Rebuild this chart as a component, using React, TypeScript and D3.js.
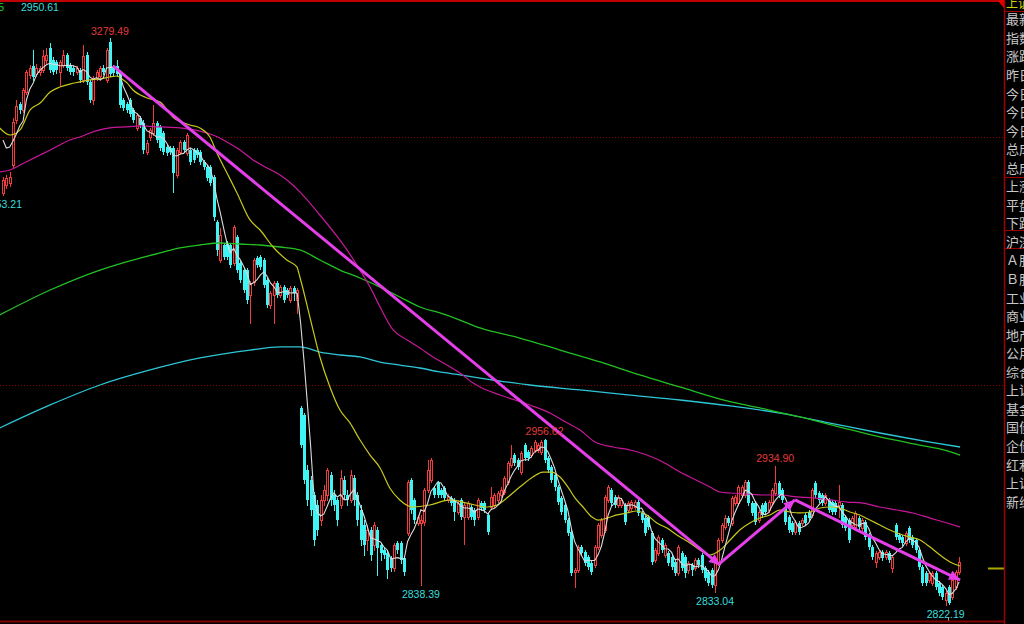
import React from 'react';
import * as d3 from 'd3';

// ---------- candle data (index points) ----------
const opens = [
  3155.0, 3161.3, 3162.9, 3177.4, 3213.7, 3226.6, 3221.8, 3236.3, 3250.0, 3257.3,
  3250.8, 3252.4, 3254.0, 3262.1, 3271.8, 3262.1, 3260.5, 3252.4, 3258.1, 3266.2,
  3258.1, 3255.7, 3252.4, 3254.0, 3246.0, 3266.2, 3244.4, 3229.9, 3247.6, 3249.2,
  3255.7, 3246.0, 3276.6, 3256.5, 3257.3, 3252.4, 3229.9, 3226.6, 3229.9, 3221.8,
  3207.3, 3215.3, 3211.3, 3187.9, 3200.0, 3203.2, 3211.3, 3208.1, 3203.2, 3191.9,
  3191.1, 3191.1, 3169.4, 3187.9, 3196.0, 3187.1, 3189.5, 3189.5, 3189.5,
  3187.9, 3179.9, 3175.8, 3175.8, 3167.8, 3131.5, 3100.8, 3112.9, 3114.5, 3112.9, 3098.4,
  3119.4, 3098.4, 3092.7, 3092.7, 3072.6, 3083.1, 3102.4, 3103.2, 3100.8, 3084.7,
  3064.5, 3072.6, 3082.3, 3072.6, 3079.0, 3076.6, 3068.6, 3078.2, 3068.6,
  2981.6, 2975.8, 2931.4, 2923.4, 2911.3, 2903.2, 2891.1, 2907.3, 2911.3, 2927.4, 2911.3,
  2907.3, 2903.2, 2923.4, 2911.3, 2907.3, 2925.0, 2911.3, 2899.2, 2887.1, 2875.0,
  2883.1, 2871.0, 2883.1, 2871.0,
  2866.9, 2864.5, 2860.5, 2852.4, 2872.6, 2872.6, 2860.5, 2880.6, 2923.4, 2907.3,
  2888.7, 2888.7, 2889.5, 2915.3, 2923.4, 2916.9, 2921.0, 2915.3, 2916.9, 2907.3,
  2908.9, 2907.3, 2897.6, 2907.3, 2893.5, 2893.5, 2901.6, 2899.2, 2893.5, 2904.8,
  2904.8, 2895.2, 2901.6, 2903.2, 2907.3, 2911.3, 2913.7, 2921.8, 2935.5, 2943.5,
  2939.5, 2929.8, 2951.6, 2946.0, 2943.5, 2947.6, 2947.6, 2946.0, 2955.6, 2941.1,
  2933.9, 2927.4, 2917.7, 2908.9, 2903.2, 2891.1, 2881.5, 2849.2, 2850.8, 2869.3,
  2865.3, 2861.3, 2856.4, 2854.8, 2869.3, 2879.0, 2883.1, 2907.3, 2915.3, 2909.7,
  2903.2, 2903.2, 2903.2, 2899.2, 2900.8, 2901.6, 2905.6, 2896.8, 2892.7, 2893.5,
  2880.6, 2858.9, 2864.5, 2875.0, 2862.9, 2864.5, 2861.3, 2857.3, 2848.4, 2864.5,
  2861.3, 2850.8, 2854.8, 2852.4, 2858.9, 2862.9, 2852.4, 2849.2, 2850.8, 2838.7,
  2856.4, 2875.0, 2885.5, 2892.7, 2888.7, 2904.8, 2904.8, 2911.3, 2911.3, 2921.8,
  2904.8, 2904.8, 2891.1, 2903.2, 2904.8, 2899.2, 2905.6, 2912.9, 2920.9, 2915.3,
  2901.6, 2893.5, 2888.7, 2881.5, 2888.7, 2888.7, 2895.2, 2897.6, 2895.2, 2920.9,
  2912.9, 2911.3, 2904.8, 2907.3, 2905.6, 2904.8, 2903.2, 2903.2, 2893.5, 2891.1,
  2887.1, 2885.5, 2892.7, 2884.7, 2889.5, 2879.0, 2869.3, 2857.3, 2861.3, 2865.3,
  2861.3, 2864.5, 2852.4, 2887.1, 2879.0, 2877.4, 2872.6, 2884.7, 2877.4, 2875.0,
  2866.9, 2853.2, 2848.4, 2842.7, 2840.3, 2848.4, 2840.3, 2837.1, 2826.6, 2837.1,
  2829.0, 2837.1, 2849.2,
];

const closes = [
  3165.3, 3166.9, 3167.7, 3212.1, 3225.0, 3221.8, 3237.9, 3252.4, 3255.7, 3248.4,
  3255.7, 3255.7, 3265.4, 3266.2, 3254.0, 3252.4, 3254.0, 3260.5, 3266.2, 3255.7,
  3252.4, 3252.4, 3255.7, 3246.0, 3265.4, 3244.4, 3229.9, 3247.6, 3252.4, 3255.7,
  3252.4, 3270.2, 3250.8, 3251.6, 3250.8, 3225.8, 3223.4, 3221.8, 3218.6, 3213.7,
  3217.7, 3209.7, 3189.5, 3195.2, 3205.7, 3211.3, 3197.6, 3191.1, 3187.9, 3187.1,
  3187.9, 3171.0, 3189.5, 3196.0, 3189.5, 3201.6, 3179.9, 3181.5, 3185.5,
  3179.9, 3175.8, 3167.0, 3162.9, 3135.5, 3108.9, 3121.0, 3103.2, 3103.2, 3096.8, 3127.4,
  3092.7, 3084.7, 3076.6, 3068.6, 3082.3, 3100.8, 3096.8, 3095.2, 3080.7, 3064.5,
  3074.2, 3082.3, 3072.6, 3079.0, 3068.6, 3072.6, 3078.2, 3074.2, 3076.6,
  2951.6, 2923.4, 2907.3, 2899.2, 2875.0, 2883.1, 2907.3, 2915.3, 2931.4, 2907.3, 2903.2,
  2891.1, 2925.0, 2911.3, 2907.3, 2927.4, 2907.3, 2891.1, 2875.0, 2871.0, 2883.1,
  2862.9, 2887.1, 2868.5, 2864.5,
  2862.9, 2850.8, 2852.4, 2871.0, 2866.9, 2858.9, 2849.2, 2921.8, 2899.2, 2891.1,
  2893.5, 2891.1, 2915.3, 2931.4, 2939.5, 2911.3, 2911.3, 2911.3, 2908.9, 2909.7,
  2904.8, 2897.6, 2904.8, 2893.5, 2903.2, 2904.8, 2893.5, 2891.1, 2907.3, 2900.8,
  2899.2, 2881.5, 2909.7, 2911.3, 2912.9, 2915.3, 2925.0, 2937.1, 2941.5, 2937.1,
  2933.9, 2945.2, 2941.1, 2941.1, 2949.2, 2954.0, 2951.6, 2954.0, 2939.5, 2931.4,
  2923.4, 2917.7, 2905.6, 2897.6, 2891.1, 2880.6, 2848.4, 2850.8, 2869.3, 2864.5,
  2856.4, 2853.2, 2849.2, 2869.3, 2887.1, 2891.1, 2909.7, 2917.7, 2904.8, 2903.2,
  2909.7, 2907.3, 2889.5, 2904.8, 2905.6, 2905.6, 2896.8, 2891.1, 2880.6, 2885.5,
  2857.3, 2866.9, 2877.4, 2866.9, 2871.0, 2856.4, 2853.2, 2848.4, 2869.3, 2852.4,
  2848.4, 2856.4, 2850.8, 2858.9, 2854.8, 2850.8, 2844.3, 2840.3, 2838.7, 2856.4,
  2875.0, 2887.1, 2892.7, 2888.7, 2908.9, 2909.7, 2917.7, 2917.7, 2921.8, 2904.8,
  2896.8, 2889.5, 2897.6, 2895.2, 2897.6, 2905.6, 2915.3, 2920.9, 2911.3, 2907.3,
  2889.5, 2883.1, 2881.5, 2889.5, 2881.5, 2891.1, 2888.7, 2892.7, 2915.3, 2911.3,
  2907.3, 2904.8, 2911.3, 2899.2, 2897.6, 2897.6, 2905.6, 2887.1, 2884.7, 2875.0,
  2892.7, 2896.8, 2885.5, 2891.1, 2877.4, 2869.3, 2861.3, 2864.5, 2865.3, 2860.5,
  2865.3, 2858.9, 2861.3, 2877.4, 2875.0, 2872.6, 2880.6, 2875.0, 2871.0, 2866.9,
  2853.2, 2840.3, 2840.3, 2848.4, 2848.4, 2837.1, 2832.3, 2829.0, 2832.3, 2824.2,
  2842.7, 2849.2, 2857.3,
];

const highs = [
  3167.7, 3169.4, 3171.8, 3215.3, 3229.9, 3228.2, 3239.5, 3254.0, 3258.1, 3270.2,
  3258.9, 3257.3, 3270.2, 3271.8, 3275.8, 3264.6, 3262.1, 3262.1, 3270.2, 3267.8,
  3259.7, 3257.3, 3257.3, 3255.7, 3274.2, 3268.6, 3246.0, 3249.2, 3254.0, 3257.3,
  3258.1, 3271.8, 3279.49, 3258.1, 3262.1, 3254.0, 3231.5, 3228.2, 3231.5, 3223.4,
  3219.4, 3216.9, 3213.7, 3197.6, 3207.3, 3225.8, 3212.9, 3209.7, 3204.8, 3193.5,
  3192.7, 3192.7, 3191.1, 3197.6, 3197.6, 3203.2, 3191.1, 3191.1, 3191.1,
  3189.5, 3181.5, 3177.4, 3177.4, 3169.4, 3133.1, 3126.6, 3114.5, 3116.1, 3114.5, 3129.0,
  3121.0, 3100.0, 3094.4, 3094.4, 3083.9, 3102.4, 3104.0, 3104.9, 3102.4, 3086.3,
  3075.8, 3083.9, 3083.9, 3080.7, 3080.7, 3078.2, 3079.8, 3079.8, 3078.2,
  2983.2, 2977.4, 2935.5, 2926.6, 2913.7, 2907.3, 2911.3, 2919.4, 2933.1, 2929.8, 2915.3,
  2908.9, 2931.4, 2926.6, 2915.3, 2931.4, 2927.4, 2913.7, 2903.2, 2891.1, 2887.1,
  2885.5, 2889.5, 2885.5, 2872.6,
  2868.5, 2866.1, 2862.1, 2872.6, 2874.2, 2874.2, 2862.1, 2923.4, 2925.0, 2908.9,
  2895.2, 2895.2, 2916.9, 2939.5, 2941.1, 2918.6, 2922.6, 2916.9, 2918.6, 2912.1,
  2910.5, 2908.9, 2906.4, 2908.9, 2904.8, 2906.4, 2903.2, 2900.8, 2908.9, 2906.4,
  2906.4, 2896.8, 2917.7, 2912.9, 2914.5, 2917.7, 2926.6, 2938.7, 2951.6, 2945.2,
  2941.1, 2946.8, 2953.2, 2947.6, 2950.8, 2955.6, 2953.2, 2955.6, 2956.62, 2942.7,
  2935.5, 2929.0, 2919.4, 2910.5, 2904.8, 2892.7, 2883.1, 2852.4, 2871.0, 2871.0,
  2866.9, 2862.9, 2858.1, 2871.0, 2888.7, 2892.7, 2911.3, 2919.4, 2916.9, 2911.3,
  2911.3, 2908.9, 2904.8, 2906.4, 2907.3, 2907.3, 2907.3, 2898.4, 2894.4, 2895.2,
  2882.3, 2868.5, 2879.0, 2876.6, 2872.6, 2866.1, 2862.9, 2858.9, 2871.0, 2866.1,
  2862.9, 2858.1, 2856.4, 2860.5, 2860.5, 2864.5, 2854.0, 2850.8, 2852.4, 2858.1,
  2876.6, 2888.7, 2895.2, 2894.4, 2910.5, 2911.3, 2919.4, 2919.4, 2923.4, 2923.4,
  2906.4, 2906.4, 2899.2, 2904.8, 2906.4, 2907.3, 2916.9, 2934.90, 2922.6, 2916.9,
  2903.2, 2895.2, 2890.3, 2891.1, 2890.3, 2892.7, 2896.8, 2899.2, 2916.9, 2922.6,
  2914.5, 2912.9, 2912.9, 2908.9, 2907.3, 2906.4, 2919.4, 2904.8, 2895.2, 2892.7,
  2894.4, 2898.4, 2894.4, 2892.7, 2891.1, 2880.6, 2871.0, 2866.1, 2866.9, 2866.9,
  2866.9, 2866.1, 2862.9, 2888.7, 2880.6, 2879.0, 2882.3, 2886.3, 2879.0, 2876.6,
  2868.5, 2854.8, 2850.0, 2850.0, 2850.0, 2850.0, 2841.9, 2838.7, 2833.9, 2838.7,
  2844.4, 2850.8, 2861.3,
];

const lows = [
  3153.21, 3158.9, 3160.5, 3175.0, 3211.3, 3219.4, 3220.2, 3234.7, 3247.6, 3246.0,
  3249.2, 3250.0, 3252.4, 3259.7, 3252.4, 3250.8, 3251.6, 3241.9, 3256.5, 3254.0,
  3250.8, 3250.0, 3250.8, 3244.4, 3244.4, 3242.7, 3228.2, 3226.6, 3246.0, 3246.0,
  3250.8, 3244.4, 3249.2, 3250.0, 3249.2, 3224.2, 3221.8, 3220.2, 3216.9, 3212.1,
  3205.7, 3208.1, 3187.1, 3186.3, 3197.6, 3201.6, 3196.0, 3189.5, 3186.3, 3185.5,
  3186.3, 3155.7, 3167.8, 3186.3, 3187.9, 3185.5, 3178.2, 3179.9, 3183.9,
  3178.2, 3174.2, 3165.3, 3161.3, 3133.1, 3104.9, 3099.2, 3101.6, 3101.6, 3095.2, 3096.8,
  3091.1, 3083.1, 3075.0, 3066.1, 3050.0, 3080.7, 3095.2, 3093.5, 3079.0, 3062.9,
  3062.1, 3050.0, 3071.0, 3071.0, 3067.0, 3071.0, 3067.0, 3068.6, 3058.1,
  2950.0, 2921.0, 2903.2, 2895.2, 2871.0, 2879.0, 2887.1, 2903.2, 2907.3, 2903.2, 2899.2,
  2887.1, 2900.8, 2908.9, 2903.2, 2905.6, 2903.2, 2887.1, 2871.0, 2862.9, 2866.9,
  2858.9, 2866.9, 2846.8, 2858.9,
  2860.5, 2844.3, 2850.0, 2850.0, 2864.5, 2856.4, 2846.8, 2879.0, 2896.8, 2888.7,
  2887.1, 2838.39, 2887.1, 2913.7, 2921.8, 2909.7, 2909.7, 2909.7, 2907.3, 2905.6,
  2903.2, 2891.1, 2896.0, 2891.9, 2871.8, 2891.9, 2891.9, 2887.1, 2891.9, 2899.2,
  2897.6, 2879.8, 2900.0, 2901.6, 2905.6, 2909.7, 2912.1, 2920.2, 2933.9, 2935.5,
  2932.3, 2928.2, 2939.5, 2939.5, 2941.9, 2946.0, 2946.0, 2944.3, 2937.9, 2929.8,
  2921.8, 2915.3, 2904.0, 2896.0, 2889.5, 2879.0, 2846.8, 2837.1, 2849.2, 2862.9,
  2854.8, 2851.6, 2847.6, 2853.2, 2867.7, 2877.4, 2881.5, 2905.6, 2903.2, 2901.6,
  2901.6, 2901.6, 2887.9, 2897.6, 2899.2, 2900.0, 2895.2, 2889.5, 2879.0, 2883.9,
  2855.6, 2857.3, 2862.9, 2865.3, 2861.3, 2854.8, 2851.6, 2846.8, 2846.8, 2850.8,
  2845.2, 2848.4, 2846.8, 2850.8, 2853.2, 2849.2, 2842.7, 2838.7, 2837.1, 2833.04,
  2854.8, 2873.4, 2883.9, 2887.1, 2887.1, 2903.2, 2903.2, 2909.7, 2909.7, 2903.2,
  2895.2, 2887.9, 2889.5, 2893.5, 2896.0, 2897.6, 2904.0, 2911.3, 2909.7, 2905.6,
  2887.9, 2881.5, 2879.8, 2879.8, 2879.8, 2887.1, 2887.1, 2891.1, 2893.5, 2909.7,
  2905.6, 2903.2, 2903.2, 2897.6, 2896.0, 2896.0, 2893.5, 2885.5, 2883.1, 2873.4,
  2885.5, 2883.9, 2883.9, 2883.1, 2875.8, 2867.7, 2859.7, 2853.2, 2859.7, 2858.9,
  2859.7, 2857.3, 2849.2, 2875.8, 2873.4, 2871.0, 2871.0, 2873.4, 2869.3, 2865.3,
  2851.6, 2838.7, 2838.7, 2841.1, 2838.7, 2835.5, 2830.6, 2827.4, 2822.19, 2823.4,
  2827.4, 2835.5, 2847.6,
];

// MA5 values at the first bars (earlier closes are off-screen)
const ma5Head = [3197.6, 3191.1, 3191.9, 3196.8, 3202.4, 3208.9];

// longer moving averages, read as [bar index, value]
const maYellow: [number, number][] = [
  [-1, 3207.3], [2.1, 3201.6], [5.1, 3205.7], [8.1, 3221.8], [11.1, 3227.4], [14.1, 3236.3],
  [17, 3240.3], [20, 3242.7], [23, 3244.4], [26, 3246.0], [29, 3246.8], [32, 3248.4],
  [34.1, 3249.2], [35.6, 3246.8], [37.1, 3243.6], [38.9, 3237.9], [43.1, 3231.5], [47, 3228.2],
  [50.8, 3216.1], [55.9, 3209.7], [58.9, 3207.3], [61.9, 3200.0], [64, 3187.1], [67, 3171.0],
  [70, 3154.9], [73.9, 3133.1], [76.9, 3125.0], [80.8, 3111.3], [84.9, 3100.8], [87.9, 3095.2],
  [88.8, 3087.1], [91.8, 3054.8], [94.8, 3022.6], [97.8, 2998.4], [100.8, 2979.8], [103.8, 2969.4],
  [106.8, 2955.6], [109.8, 2943.5], [112.8, 2933.1], [115.7, 2916.9], [118.7, 2907.3], [122.6, 2901.6],
  [127.7, 2903.2], [133.7, 2907.3], [138.8, 2904.8], [144.8, 2901.6], [147.8, 2903.2], [150.7, 2908.9],
  [154.6, 2917.7], [158.5, 2925.8], [161.5, 2929.8], [164.2, 2929.8], [166.6, 2925.8], [169, 2917.7],
  [171.1, 2908.9], [173.5, 2901.6], [176.2, 2893.5], [178, 2891.1], [180.7, 2892.7], [183.7, 2895.2],
  [186.6, 2896.8], [189.6, 2898.4], [192.6, 2895.2], [195.6, 2888.7], [198.6, 2884.7], [201.6, 2879.0],
  [205.5, 2872.6], [208.5, 2866.9], [211.5, 2862.9], [214.5, 2866.9], [217.5, 2875.0], [220.4, 2883.1],
  [223.4, 2888.7], [226.4, 2892.7], [229.4, 2895.2], [232.4, 2899.2], [235.4, 2897.6], [238.4, 2896.8],
  [241.4, 2897.6], [244.4, 2900.8], [247.4, 2901.6], [250.3, 2900.8], [253.3, 2897.6], [256.3, 2895.2],
  [259.3, 2891.1], [262.3, 2887.1], [265.3, 2883.1], [268.3, 2879.8], [271.3, 2877.4], [274.3, 2875.0],
  [277.3, 2869.3], [280.3, 2862.9], [283.3, 2857.3], [286.3, 2854.0],
];

const maMagenta: [number, number][] = [
  [-1, 3171.8], [2.1, 3173.4], [5.1, 3177.4], [8.1, 3181.5], [11.1, 3185.5], [14.1, 3189.5],
  [17, 3193.6], [20, 3197.6], [23, 3200.0], [26, 3203.2], [29, 3205.7], [32, 3207.3],
  [36.5, 3208.1], [41, 3208.9], [47, 3208.1], [52.9, 3207.3], [58.9, 3204.8], [62.8, 3201.6],
  [67, 3196.0], [70.9, 3189.5], [74.8, 3181.5], [79, 3175.0], [82.9, 3169.4], [86.7, 3161.3],
  [88.8, 3155.7], [94.8, 3137.1], [99.6, 3121.0], [102.9, 3108.9], [106.8, 3092.7], [109.8, 3079.0],
  [112.8, 3062.9], [116.7, 3044.4], [120.9, 3036.3], [124.7, 3029.8], [128.6, 3022.6], [132.8, 3016.1],
  [136.7, 3009.7], [140.6, 3001.6], [142.7, 2998.4], [148.7, 2991.9], [157.6, 2983.9], [163.6, 2977.4],
  [167.2, 2971.8], [172.6, 2963.7], [177.1, 2954.0], [182.5, 2950.0], [187.6, 2947.6], [192.6, 2943.5],
  [197.4, 2937.9], [202.5, 2929.8], [205.5, 2925.8], [208.5, 2921.8], [211.5, 2917.7], [214.5, 2913.7],
  [217.5, 2912.9], [222.5, 2912.1], [227.3, 2911.3], [232.4, 2911.3], [237.5, 2909.7], [242.3, 2908.9],
  [247.4, 2907.3], [252.5, 2905.6], [257.2, 2904.8], [262.3, 2901.6], [267.4, 2899.2], [272.2, 2896.8],
  [277.3, 2892.7], [282.4, 2888.7], [286.3, 2885.5],
];

const maGreen: [number, number][] = [
  [-1, 3056.5], [14.1, 3076.6], [29, 3092.7], [41, 3102.4], [47, 3106.5], [52.9, 3110.5],
  [58.9, 3112.9], [64.9, 3114.5], [70.9, 3113.7], [76.9, 3112.9], [82.9, 3111.3], [88.8, 3108.9],
  [94.8, 3100.8], [100.8, 3092.7], [106.8, 3086.3], [112.8, 3079.0], [118.7, 3071.0], [124.7, 3062.9],
  [130.7, 3058.1], [136.7, 3052.4], [142.7, 3046.0], [154.6, 3037.9], [166.6, 3028.2], [178.6, 3018.6],
  [190.5, 3008.1], [202.5, 2998.4], [214.5, 2988.7], [226.4, 2981.5], [238.4, 2974.2], [250.3, 2966.1],
  [262.3, 2958.1], [274.2, 2951.6], [280.2, 2948.4], [286.3, 2943.5],
];

const maCyan: [number, number][] = [
  [-1, 2965.3], [14.1, 2983.9], [29, 3000.0], [44, 3012.1], [58.9, 3021.8], [73.9, 3028.2],
  [82.9, 3030.7], [88.8, 3030.7], [94.8, 3026.6], [100.8, 3024.2], [106.8, 3022.6], [112.8, 3018.5],
  [118.7, 3016.1], [124.7, 3013.7], [130.7, 3010.5], [136.7, 3008.1], [142.7, 3005.6], [157.6, 3000.0],
  [172.6, 2996.0], [187.6, 2991.9], [202.5, 2987.9], [217.5, 2983.1], [232.4, 2977.4], [247.4, 2969.3],
  [262.3, 2961.3], [277.3, 2954.0], [286.3, 2950.0],
];

// drawn trend arrows: [start index, start value, end index, end value]
const trendArrows: [number, number, number, number][] = [
  [32.9, 3257.3, 214.5, 2854.8],
  [214.5, 2856.4, 236.9, 2907.3],
  [236.9, 2907.3, 286.3, 2842.7],
];

// marked extremes: [bar index, value, 'h' | 'l']
const marks: [number, number, string][] = [
  [32, 3279.49, 'h'], [162, 2956.62, 'h'], [231, 2934.90, 'h'],
  [0, 3153.21, 'l'], [125, 2838.39, 'l'], [213, 2833.04, 'l'], [282, 2822.19, 'l'],
];

const gridLevels = [3200, 3000];
const headerValue = '2950.61';
const priceMarker = 2852.4;

const panelTitle = '上证指数';
const panelLabels = [
  '最新指数', '指数涨跌', '涨跌幅度', '昨日收盘', '今日开盘', '今日最高', '今日最低',
  '总成交额', '总成交量', '上涨家数', '平盘家数', '下跌家数', '沪深300',
  'Ａ股指数', 'Ｂ股指数', '工业指数', '商业指数', '地产指数', '公用指数', '综合指数',
  '上证50', '基金指数', '国债指数', '企债指数', '红利指数', '上证180', '新综指',
];

const W = 1024;
const H = 624;
const PLOT_R = 1004;

export default function App() {
  const N = closes.length;
  const x = d3.scaleLinear().domain([0, N - 1]).range([3, 3 + (N - 1) * 3.343]);
  const y = d3.scaleLinear().domain([3000, 3200]).range([385, 137]);

  const ma5: [number, number][] = closes.map((c, i) => [
    i,
    i < ma5Head.length ? ma5Head[i] : (d3.mean(closes.slice(i - 4, i + 1)) as number),
  ]);

  const smooth = d3
    .line<[number, number]>()
    .x((d) => x(d[0]))
    .y((d) => y(d[1]))
    .curve(d3.curveMonotoneX);
  const straight = d3
    .line<[number, number]>()
    .x((d) => x(d[0]))
    .y((d) => y(d[1]));

  const UP = '#f03c3c';
  const DOWN = '#40f4f4';

  const candles = closes.map((c, i) => {
    const o = opens[i];
    const cx = Math.round(x(i));
    const yh = Math.round(y(highs[i]));
    const yl = Math.round(y(lows[i]));
    if (c >= o) {
      const top = Math.round(y(c));
      const bot = Math.round(y(o));
      const hgt = Math.max(bot - top, 1);
      return (
        <g key={i}>
          <line x1={cx + 0.5} x2={cx + 0.5} y1={yh} y2={top} stroke={UP} />
          <line x1={cx + 0.5} x2={cx + 0.5} y1={top + hgt} y2={yl + 1} stroke={UP} />
          <rect x={cx - 0.5} y={top + 0.5} width={2} height={hgt} fill="#000" stroke={UP} strokeWidth={1} />
        </g>
      );
    }
    const top = Math.round(y(o));
    const bot = Math.round(y(c));
    return (
      <g key={i}>
        <line x1={cx + 0.5} x2={cx + 0.5} y1={yh} y2={yl + 1} stroke={DOWN} />
        <rect x={cx - 1} y={top} width={3} height={Math.max(bot - top, 1)} fill={DOWN} />
      </g>
    );
  });

  const arrowHead = (a: [number, number, number, number]) => {
    const x1 = x(a[0]), y1 = y(a[1]), x2 = x(a[2]), y2 = y(a[3]);
    const ang = Math.atan2(y2 - y1, x2 - x1);
    const L = 11, Wd = 5;
    const bx = x2 - L * Math.cos(ang), by = y2 - L * Math.sin(ang);
    const px = -Math.sin(ang) * Wd, py = Math.cos(ang) * Wd;
    return `M${x2},${y2}L${bx + px},${by + py}L${bx - px},${by - py}Z`;
  };

  const labelFont = 'Liberation Sans, Arial, sans-serif';

  return (
    <div style={{ position: 'fixed', left: 0, top: 0, width: W, height: H, background: '#000', overflow: 'hidden' }}>
      <svg width={W} height={H} style={{ display: 'block' }}>
        <rect x={0} y={0} width={W} height={H} fill="#000" />
        <defs>
          <clipPath id="plot">
            <rect x={0} y={2} width={PLOT_R} height={619} />
          </clipPath>
        </defs>

        {/* grid levels */}
        {gridLevels.map((g) => (
          <line key={g} x1={0} x2={PLOT_R} y1={Math.round(y(g)) + 0.5} y2={Math.round(y(g)) + 0.5}
            stroke="#8a0000" strokeDasharray="1,2" />
        ))}

        <g clipPath="url(#plot)">
          {candles}
          <path d={smooth(maCyan) || ''} fill="none" stroke="#2ec6d6" strokeWidth={1.3} />
          <path d={smooth(maGreen) || ''} fill="none" stroke="#22c022" strokeWidth={1.3} />
          <path d={smooth(maMagenta) || ''} fill="none" stroke="#c8189c" strokeWidth={1.2} />
          <path d={smooth(maYellow) || ''} fill="none" stroke="#c8c81e" strokeWidth={1.2} />
          <path d={straight(ma5) || ''} fill="none" stroke="#dcdcdc" strokeWidth={1.1} />

          {trendArrows.map((a, k) => (
            <g key={k}>
              <line x1={x(a[0])} y1={y(a[1])} x2={x(a[2])} y2={y(a[3])} stroke="#e43fe8" strokeWidth={3} />
              <path d={arrowHead(a)} fill="#e43fe8" />
            </g>
          ))}

          {marks.map(([i, v, k]) => (
            <text key={i} x={x(i)} y={k === 'h' ? y(v) - 7.5 : y(v) + 8.5} textAnchor="middle"
              dominantBaseline="central" fontFamily={labelFont} fontSize={10.5}
              fill={k === 'h' ? '#e23a3a' : '#38dede'}>
              {v.toFixed(2)}
            </text>
          ))}
        </g>

        {/* price marker */}
        <line x1={988} x2={PLOT_R} y1={Math.round(y(priceMarker)) + 0.5} y2={Math.round(y(priceMarker)) + 0.5}
          stroke="#a8a800" strokeWidth={2} />
        <line x1={948.5} x2={948.5} y1={617} y2={622} stroke="#9a9a9a" />

        {/* header */}
        <text x={4} y={7} textAnchor="end" dominantBaseline="central" fontFamily={labelFont} fontSize={10.5} fill="#20d020">5</text>
        <text x={21} y={7} dominantBaseline="central" fontFamily={labelFont} fontSize={10.5} fill="#38dede">{headerValue}</text>

        {/* frame */}
        <rect x={0} y={0} width={PLOT_R} height={2} fill="#c00000" />
        <line x1={0} x2={PLOT_R} y1={621.5} y2={621.5} stroke="#800000" strokeWidth={2} />
        <line x1={PLOT_R + 0.5} x2={PLOT_R + 0.5} y1={0} y2={H} stroke="#a00000" strokeWidth={1.5} />
        <path d={`M${PLOT_R - 7},0L${PLOT_R},0L${PLOT_R},8Z`} fill="#e00000" />

        {/* right panel */}
        <text x={1006} y={7.5} fontFamily="Noto Sans CJK SC" fontSize={12} fill="#d0d000">{panelTitle}</text>
        {[11.5, 177.5, 230.5, 248.5].map((sy) => (
          <line key={sy} x1={PLOT_R} x2={W} y1={sy} y2={sy} stroke="#a00000" />
        ))}
        {panelLabels.map((t, k) => (
          <text key={k} x={1006} y={18.8 + 18.55 * k} dominantBaseline="central"
            fontFamily="Noto Sans CJK SC" fontSize={13} fill="#c8c8c8">{t}</text>
        ))}
      </svg>
    </div>
  );
}
